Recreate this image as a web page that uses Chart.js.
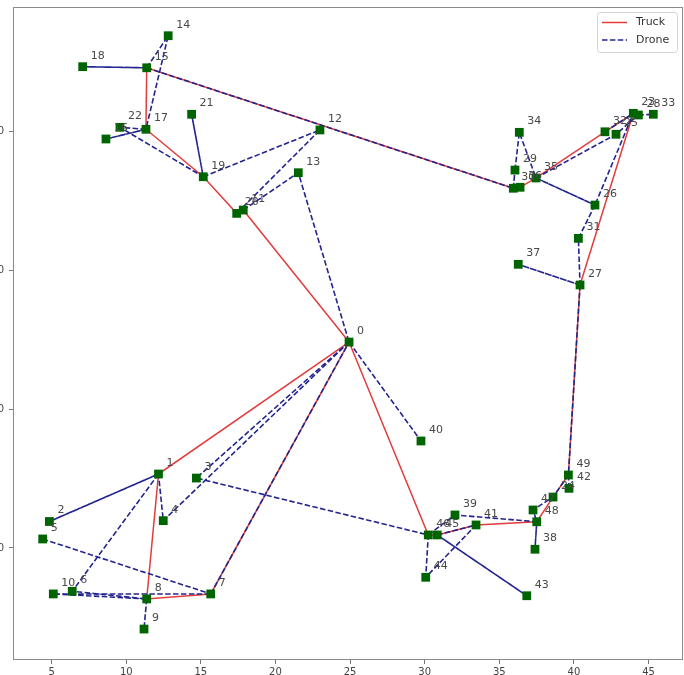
<!DOCTYPE html>
<html>
<head>
<meta charset="utf-8">
<script src="https://cdn.jsdelivr.net/npm/chart.js@4.4.1/dist/chart.umd.min.js"></script>
<style>
  html, body { margin:0; padding:0; background:#fff; overflow:hidden; width:684px; height:675px; }
  #wrap { position:absolute; left:-27px; top:0; }
</style>
</head>
<body>
<div id="wrap"><canvas id="plot" width="711" height="700"></canvas></div>
<script>
// coordenadas de los nodos (el indice es el numero del nodo)
let nodoX = [24.93, 12.16, 4.85, 14.70, 12.48, 4.40, 6.38, 15.66, 11.37, 11.19,
             5.11, 17.84, 22.98, 21.53, 12.81, 11.37, 8.64, 11.32, 7.08, 15.16,
             17.40, 14.38, 9.58, 43.98, 38.60, 42.82, 41.41, 40.41, 44.32, 36.05,
             35.94, 40.30, 42.08, 45.32, 36.34, 37.46, 36.39, 36.27, 37.39, 32.03,
             29.75, 33.44, 39.67, 36.84, 30.07, 30.84, 30.24, 37.26, 37.51, 39.63];
let nodoY = [24.84, 15.33, 11.91, 15.04, 11.97, 10.65, 6.88, 6.69, 6.33, 4.16,
             6.69, 34.35, 40.12, 37.04, 46.91, 44.60, 39.47, 40.17, 44.68, 36.75,
             34.11, 41.25, 40.31, 41.32, 13.67, 39.81, 34.71, 28.95, 41.20, 37.23,
             35.92, 32.31, 39.99, 41.25, 39.95, 36.66, 35.99, 30.44, 9.91, 12.38,
             17.71, 11.66, 14.30, 6.56, 7.89, 10.94, 10.94, 12.74, 11.89, 15.26];

// rutas del camion
let rutasCamion = [
  [0, 1, 8, 7, 0],
  [0, 46, 45, 41, 48, 24, 49, 27, 23, 32, 35, 36, 30, 15, 17, 19, 20, 11, 0]
];

// vuelos del dron (despegue, cliente, aterrizaje)
let vuelosDron = [
  [0, 4, 1], [1, 2, 1], [0, 3, 46], [1, 6, 8], [8, 10, 7], [8, 9, 8], [5, 7], [7, 0],
  [15, 18, 15], [15, 14, 17], [17, 16, 17], [17, 22, 19], [19, 21, 19], [19, 12, 20],
  [11, 13, 0], [15, 30],
  [30, 29, 30], [29, 34, 35], [35, 26, 35], [35, 25, 28], [32, 23, 26], [26, 31, 27],
  [28, 33], [27, 37, 27], [27, 49],
  [0, 40], [49, 42], [49, 24, 47, 48], [48, 38, 48], [46, 39, 48], [45, 41, 44, 46], [45, 43, 45]
];

let leyenda = ['Truck', 'Drone'];

let rojo = '#e23c3c';
let azul = '#24248f';
let verde = '#006400';
let guiones = [5.5, 2.4];

let punto = (i) => ({x: nodoX[i], y: nodoY[i]});

let datasets = [];
rutasCamion.forEach(ruta => {
  datasets.push({
    label: leyenda[0], data: ruta.map(punto), showLine: true,
    borderColor: rojo, borderWidth: 1.5, pointRadius: 0, order: 2
  });
});
vuelosDron.forEach(vuelo => {
  datasets.push({
    label: leyenda[1], data: vuelo.map(punto), showLine: true,
    borderColor: azul, borderWidth: 1.6, borderDash: guiones, pointRadius: 0, order: 1
  });
});
datasets.push({
  label: 'nodos', data: nodoX.map((v, i) => punto(i)), showLine: false,
  pointStyle: 'rect', pointRadius: 6.2, pointBackgroundColor: verde,
  pointBorderColor: verde, pointBorderWidth: 0, order: 0
});

// marco de los ejes, etiquetas de nodos y leyenda
let extras = {
  id: 'extras',
  afterDatasetsDraw(chart) {
    let ctx = chart.ctx;
    let sx = chart.scales.x, sy = chart.scales.y;
    let area = chart.chartArea;
    ctx.save();
    ctx.font = '11px "DejaVu Sans"';
    ctx.fillStyle = '#484848';
    ctx.textAlign = 'left';
    ctx.textBaseline = 'alphabetic';
    nodoX.forEach((v, i) => {
      let px = sx.getPixelForValue(nodoX[i]);
      let py = sy.getPixelForValue(nodoY[i]);
      ctx.fillText(String(i), px + 8, py - 8);
    });

    // marco
    ctx.strokeStyle = '#8a8a8a';
    ctx.lineWidth = 1;
    ctx.strokeRect(Math.round(area.left) + 0.5, Math.round(area.top) + 0.5,
                   Math.round(area.right - area.left) - 1, Math.round(area.bottom - area.top) - 1);

    // leyenda
    let bx = area.right - 86, by = area.top + 5, bw = 80, bh = 40;
    ctx.fillStyle = 'rgba(255,255,255,0.85)';
    ctx.strokeStyle = '#d4d4d4';
    ctx.beginPath();
    ctx.roundRect(bx + 0.5, by + 0.5, bw, bh, 3);
    ctx.fill();
    ctx.stroke();
    let filas = [by + 10.5, by + 28];
    ctx.lineWidth = 1.5;
    ctx.strokeStyle = rojo;
    ctx.beginPath(); ctx.moveTo(bx + 5, filas[0]); ctx.lineTo(bx + 30, filas[0]); ctx.stroke();
    ctx.strokeStyle = azul;
    ctx.lineWidth = 1.6;
    ctx.setLineDash(guiones);
    ctx.beginPath(); ctx.moveTo(bx + 5, filas[1]); ctx.lineTo(bx + 30, filas[1]); ctx.stroke();
    ctx.setLineDash([]);
    ctx.fillStyle = '#333';
    ctx.font = '11px "DejaVu Sans"';
    ctx.textBaseline = 'middle';
    leyenda.forEach((t, k) => ctx.fillText(t, bx + 39, filas[k]));
    ctx.restore();
  }
};

Chart.defaults.font.family = '"DejaVu Sans", sans-serif';

new Chart(document.getElementById('plot'), {
  type: 'scatter',
  data: { datasets: datasets },
  options: {
    responsive: false,
    animation: false,
    layout: { autoPadding: false, padding: { top: 7, right: 1, left: 0, bottom: 0 } },
    plugins: { legend: { display: false }, tooltip: { enabled: false } },
    scales: {
      x: {
        type: 'linear', min: 2.41, max: 47.31,
        afterFit: (s) => { s.height = 40; s.paddingLeft = 0; s.paddingRight = 0; },
        border: { display: false },
        grid: { drawOnChartArea: false, tickLength: 4, color: '#777' },
        ticks: { stepSize: 5, includeBounds: false, color: '#444', font: { size: 10 }, padding: 2 }
      },
      y: {
        type: 'linear', min: 1.93, max: 48.98,
        afterFit: (s) => { s.width = 40; s.paddingTop = 0; s.paddingBottom = 0; },
        border: { display: false },
        grid: { drawOnChartArea: false, tickLength: 4, color: '#777' },
        ticks: { stepSize: 10, includeBounds: false, color: '#444', font: { size: 10 }, padding: 5 }
      }
    }
  },
  plugins: [extras]
});
</script>
</body>
</html>
